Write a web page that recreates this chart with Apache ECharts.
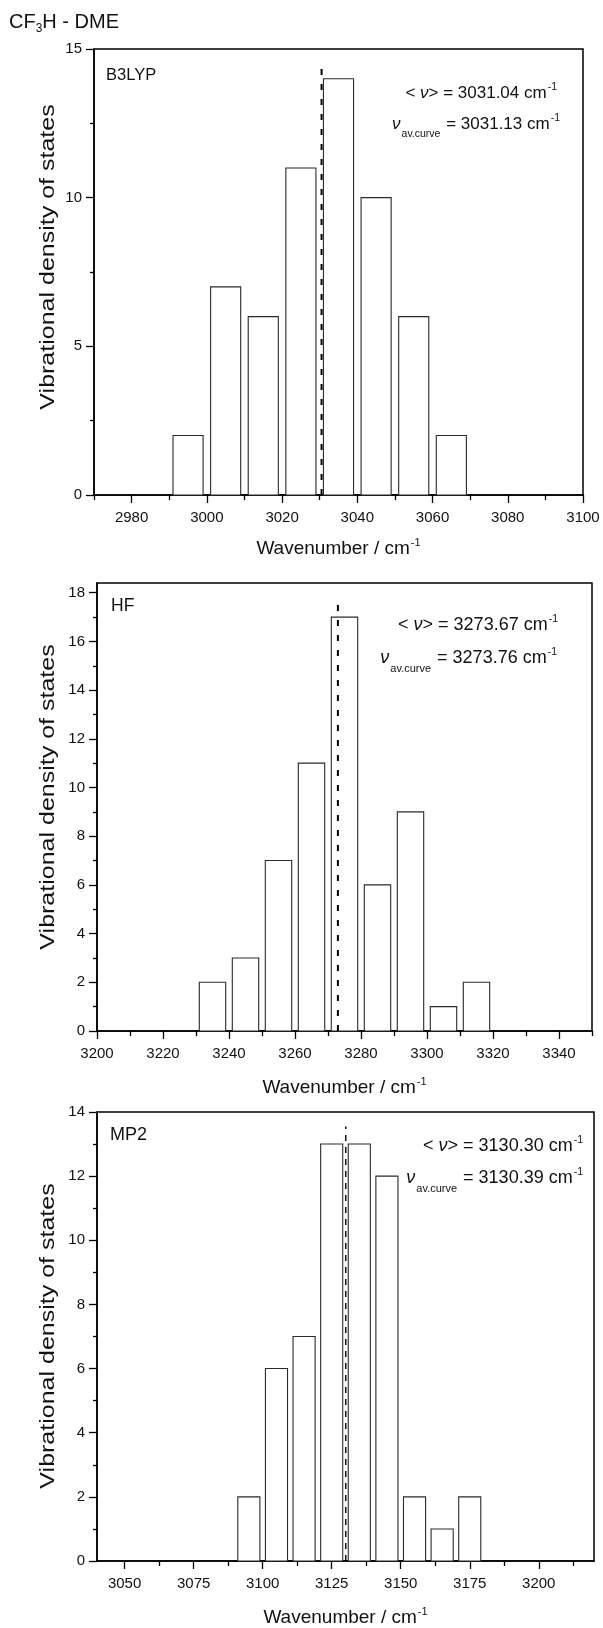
<!DOCTYPE html>
<html>
<head>
<meta charset="utf-8">
<script src="https://cdn.jsdelivr.net/npm/echarts@6/dist/echarts.min.js"></script>
<style>
html,body{margin:0;padding:0;background:#fff;}
#c{width:603px;height:1628px;}
</style>
</head>
<body>
<div id="c"></div>
<script>
// ---------------- data ----------------
const b3lypCenters = [2995, 3005, 3015, 3025, 3035, 3045, 3055, 3065];
const b3lypCounts  = [2, 7, 6, 11, 14, 10, 6, 2];
const b3lypXRange  = [2970, 3100];
const b3lypYRange  = [0, 15];
const b3lypXLabels = [2980, 3000, 3020, 3040, 3060, 3080, 3100];
const b3lypXMinor  = [2970, 2990, 3010, 3030, 3050, 3070, 3090];
const b3lypYLabels = [0, 5, 10, 15];
const b3lypYMinor  = [2.5, 7.5, 12.5];
const b3lypMeanLine = [3030.5, 14.5];   // [wavenumber, top of dashed line]
const b3lypMeanText = '3031.04';
const b3lypCurveText = '3031.13';

const hfCenters = [3235, 3245, 3255, 3265, 3275, 3285, 3295, 3305, 3315];
const hfCounts  = [2, 3, 7, 11, 17, 6, 9, 1, 2];
const hfXRange  = [3200, 3350];
const hfYRange  = [0, 18.4];
const hfXLabels = [3200, 3220, 3240, 3260, 3280, 3300, 3320, 3340];
const hfXMinor  = [3210, 3230, 3250, 3270, 3290, 3310, 3330, 3350];
const hfYLabels = [0, 2, 4, 6, 8, 10, 12, 14, 16, 18];
const hfYMinor  = [1, 3, 5, 7, 9, 11, 13, 15, 17];
const hfMeanLine = [3273.0, 17.8];
const hfMeanText = '3273.67';
const hfCurveText = '3273.76';

const mp2Centers = [3095, 3105, 3115, 3125, 3135, 3145, 3155, 3165, 3175];
const mp2Counts  = [2, 6, 7, 13, 13, 12, 2, 1, 2];
const mp2XRange  = [3040, 3220];
const mp2YRange  = [0, 14];
const mp2XLabels = [3050, 3075, 3100, 3125, 3150, 3175, 3200];
const mp2XMinor  = [3062.5, 3087.5, 3112.5, 3137.5, 3162.5, 3187.5, 3212.5];
const mp2YLabels = [0, 2, 4, 6, 8, 10, 12, 14];
const mp2YMinor  = [1, 3, 5, 7, 9, 11, 13];
const mp2MeanLine = [3130.1, 13.55];
const mp2MeanText = '3130.30';
const mp2CurveText = '3130.39';

const methodNames = ['B3LYP', 'HF', 'MP2'];
const yTitle = 'Vibrational density of states';

// ---------------- layout / style ----------------
const FONT = '"Liberation Sans", Arial, Helvetica, sans-serif';
const INK = '#111';
const BAR_HALF = 4; // half bar width in wavenumber units

const panels = [
  {centers: b3lypCenters, counts: b3lypCounts, xr: b3lypXRange, yr: b3lypYRange,
   xl: b3lypXLabels, xm: b3lypXMinor, yl: b3lypYLabels, ym: b3lypYMinor, mean: b3lypMeanLine,
   grid: [94, 49, 489, 446], dashW: 2, dash: [6, 9], nameGap: 41,
   label: {x: 106, y: 75, fs: 16.5},
   ann: {x1: 557, y1: 93, x2: 560, y2: 124, fs: 17, subFs: 10.5},
   meanT: b3lypMeanText, curveT: b3lypCurveText, yTitleY: 257},
  {centers: hfCenters, counts: hfCounts, xr: hfXRange, yr: hfYRange,
   xl: hfXLabels, xm: hfXMinor, yl: hfYLabels, ym: hfYMinor, mean: hfMeanLine,
   grid: [97, 583, 495, 448], dashW: 2, dash: [6, 9], nameGap: 44,
   label: {x: 111, y: 606, fs: 17.5},
   ann: {x1: 558, y1: 625, x2: 557, y2: 658, fs: 18, subFs: 11},
   meanT: hfMeanText, curveT: hfCurveText, yTitleY: 797},
  {centers: mp2Centers, counts: mp2Counts, xr: mp2XRange, yr: mp2YRange,
   xl: mp2XLabels, xm: mp2XMinor, yl: mp2YLabels, ym: mp2YMinor, mean: mp2MeanLine,
   grid: [97, 1112, 497, 449], dashW: 1.4, dash: [6, 6], nameGap: 44,
   label: {x: 110, y: 1135, fs: 18},
   ann: {x1: 583, y1: 1146, x2: 583, y2: 1178, fs: 18, subFs: 11},
   meanT: mp2MeanText, curveT: mp2CurveText, yTitleY: 1336}
];

function axisNameStyle() {
  return {
    fontFamily: FONT, fontSize: 19, color: INK, lineHeight: 26,
    rich: {
      a: {fontFamily: FONT, fontSize: 19, color: INK, lineHeight: 26, verticalAlign: 'middle'},
      s: {fontFamily: FONT, fontSize: 11, color: INK, lineHeight: 26, verticalAlign: 'top', padding: [1, 0, 0, 1]}
    }
  };
}
const plainNum = v => String(v);

const grids = [], xAxes = [], yAxes = [], series = [], graphics = [];

panels.forEach((p, i) => {
  grids.push({left: p.grid[0], top: p.grid[1], width: p.grid[2], height: p.grid[3],
    show: true, borderColor: '#000', borderWidth: 1.5, backgroundColor: 'rgba(0,0,0,0)',
    containLabel: false, outerBoundsMode: 'none'});

  xAxes.push({
    gridIndex: i, type: 'value', position: 'bottom', min: p.xr[0], max: p.xr[1],
    axisLine: {show: true, onZero: false, lineStyle: {color: '#000', width: 1.5}},
    axisTick: {show: true, length: 8, customValues: p.xl, lineStyle: {color: '#000', width: 1.3}},
    axisLabel: {show: true, customValues: p.xl, formatter: plainNum, fontFamily: FONT, fontSize: 15, color: INK, margin: 15},
    splitLine: {show: false},
    name: '{a|Wavenumber / cm}{s|-1}', nameLocation: 'middle', nameGap: p.nameGap,
    nameTextStyle: axisNameStyle()
  });
  xAxes.push({
    gridIndex: i, type: 'value', position: 'bottom', min: p.xr[0], max: p.xr[1],
    axisLine: {show: false},
    axisTick: {show: true, length: 5, customValues: p.xm, lineStyle: {color: '#000', width: 1.3}},
    axisLabel: {show: false}, splitLine: {show: false}
  });
  yAxes.push({
    gridIndex: i, type: 'value', position: 'left', min: p.yr[0], max: p.yr[1],
    axisLine: {show: true, onZero: false, lineStyle: {color: '#000', width: 1.5}},
    axisTick: {show: true, length: 8, customValues: p.yl, lineStyle: {color: '#000', width: 1.3}},
    axisLabel: {show: true, customValues: p.yl, formatter: plainNum, fontFamily: FONT, fontSize: 15, color: INK, margin: 12},
    splitLine: {show: false}
  });
  yAxes.push({
    gridIndex: i, type: 'value', position: 'left', min: p.yr[0], max: p.yr[1],
    axisLine: {show: false},
    axisTick: {show: true, length: 4, customValues: p.ym, lineStyle: {color: '#000', width: 1.3}},
    axisLabel: {show: false}, splitLine: {show: false}
  });

  series.push({
    type: 'custom', xAxisIndex: 2 * i, yAxisIndex: 2 * i, z: 2,
    data: p.centers.map((c, k) => [c, p.counts[k]]),
    encode: {x: 0, y: 1},
    renderItem: function (params, api) {
      const c = api.value(0), v = api.value(1);
      const a = api.coord([c - BAR_HALF, v]);
      const b = api.coord([c + BAR_HALF, 0]);
      return {type: 'rect', shape: {x: a[0], y: a[1], width: b[0] - a[0], height: b[1] - a[1]},
        style: {fill: '#fff', stroke: '#2a2a2a', lineWidth: 1.1}};
    }
  });
  series.push({
    type: 'line', xAxisIndex: 2 * i, yAxisIndex: 2 * i, z: 5,
    data: [[p.mean[0], 0], [p.mean[0], p.mean[1]]],
    showSymbol: false, symbol: 'none', silent: true,
    lineStyle: {color: '#000', width: p.dashW, type: p.dash}
  });

  // method label
  graphics.push({type: 'text', x: p.label.x, y: p.label.y, silent: true, z: 20,
    style: {text: methodNames[i], fontFamily: FONT, fontSize: p.label.fs, fill: INK,
      align: 'left', verticalAlign: 'middle'}});

  // annotations
  const fs = p.ann.fs, L = 34;
  const supFs = 10.5, subFs = p.ann.subFs;
  const supPad = Math.max(0, L / 2 - 6.5 - supFs / 2);
  const subPad = Math.max(0, L / 2 - (fs * 0.62) - subFs / 2);
  const rich = {
    n:   {fontFamily: FONT, fontSize: fs, fill: INK, verticalAlign: 'middle', lineHeight: L},
    it:  {fontFamily: FONT, fontSize: fs, fontStyle: 'italic', fill: INK, verticalAlign: 'middle', lineHeight: L},
    sup: {fontFamily: FONT, fontSize: supFs, fill: INK, verticalAlign: 'top', lineHeight: L, padding: [supPad, 0, 0, 1]},
    sub: {fontFamily: FONT, fontSize: subFs, fill: INK, verticalAlign: 'bottom', lineHeight: L, padding: [0, 1, subPad, 1]}
  };
  graphics.push({type: 'text', x: p.ann.x1, y: p.ann.y1, silent: true, z: 20,
    style: {text: '{n|<}{it| ν}{n|> = ' + p.meanT + ' cm}{sup|-1}', rich: rich,
      fontFamily: FONT, fontSize: fs, fill: INK, lineHeight: L, align: 'right', verticalAlign: 'middle'}});
  graphics.push({type: 'text', x: p.ann.x2, y: p.ann.y2, silent: true, z: 20,
    style: {text: '{it|ν}{sub|av.curve}{n| = ' + p.curveT + ' cm}{sup|-1}', rich: rich,
      fontFamily: FONT, fontSize: fs, fill: INK, lineHeight: L, align: 'right', verticalAlign: 'middle'}});

  // y axis title (rotated, slightly stretched like the source figure)
  graphics.push({type: 'text', x: 48, y: p.yTitleY, rotation: Math.PI / 2, scaleX: 1.25, silent: true, z: 20,
    style: {text: yTitle, fontFamily: FONT, fontSize: 20, fill: INK, align: 'center', verticalAlign: 'middle'}});
});

// figure title
graphics.push({type: 'text', x: 9, y: 22, silent: true, z: 20,
  style: {text: '{a|CF}{s|3}{a|H - DME}', fontFamily: FONT, fontSize: 20, fill: INK, lineHeight: 34,
    align: 'left', verticalAlign: 'middle',
    rich: {
      a: {fontFamily: FONT, fontSize: 20, fill: INK, verticalAlign: 'middle', lineHeight: 34},
      s: {fontFamily: FONT, fontSize: 12, fill: INK, verticalAlign: 'bottom', lineHeight: 34, padding: [0, 0, 4, 0]}
    }}});

const chart = echarts.init(document.getElementById('c'), null, {renderer: 'canvas', width: 603, height: 1628});
chart.setOption({
  animation: false,
  backgroundColor: '#fff',
  textStyle: {fontFamily: FONT},
  grid: grids,
  xAxis: xAxes,
  yAxis: yAxes,
  series: series,
  graphic: {elements: graphics}
});
</script>
</body>
</html>
